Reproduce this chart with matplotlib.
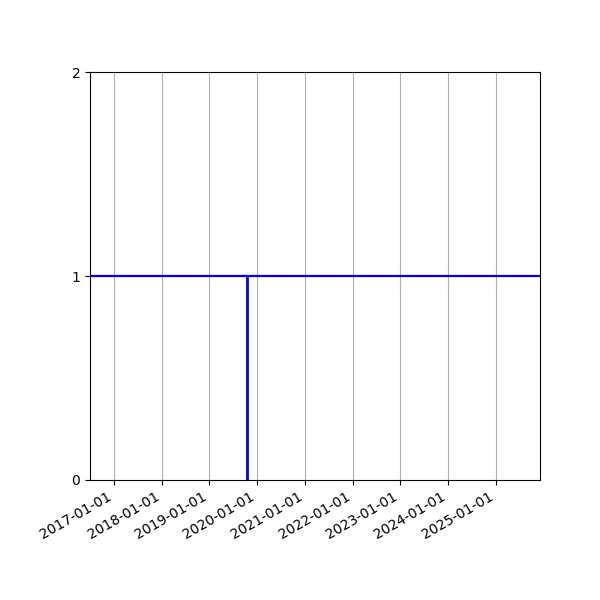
import matplotlib
matplotlib.use("Agg")
import matplotlib.pyplot as plt
import matplotlib.dates as mdates
import numpy as np

# visible date range and the event marked by the vertical line
date_start = np.datetime64("2016-07-01")
date_end = np.datetime64("2025-12-06")
event_date = np.datetime64("2019-10-16")
level = 1
y_ticks = [0, 1, 2]

fig, ax = plt.subplots(figsize=(6, 6), dpi=100)

ax.axhline(level, color="blue", linewidth=1.6)
ax.vlines(event_date, 0, level, color="blue", linewidth=2)

ax.set_xlim(date_start, date_end)
ax.set_ylim(0, 2)
ax.set_yticks(y_ticks)

ax.xaxis.set_major_locator(mdates.YearLocator())
ax.xaxis.set_major_formatter(mdates.DateFormatter("%Y-%m-%d"))
ax.grid(True, axis="x")

fig.autofmt_xdate()
fig.subplots_adjust(left=0.15, right=0.9, top=0.88, bottom=0.2)

fig.savefig("out.png", dpi=100)
